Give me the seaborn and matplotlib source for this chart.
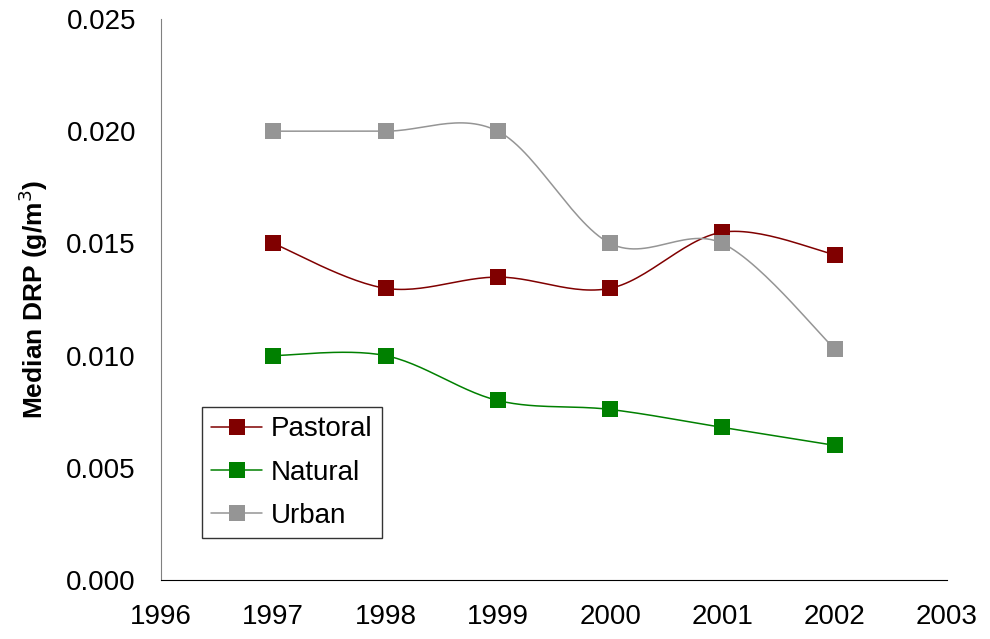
import numpy as np
import pandas as pd
import seaborn as sns
import matplotlib
matplotlib.use("Agg")
import matplotlib.pyplot as plt
from matplotlib.lines import Line2D

# data
years = [1997, 1998, 1999, 2000, 2001, 2002]
pastoral = [0.0150, 0.0130, 0.0135, 0.0130, 0.0155, 0.0145]
natural = [0.0100, 0.0100, 0.0080, 0.0076, 0.0068, 0.0060]
urban = [0.0200, 0.0200, 0.0200, 0.0150, 0.0150, 0.0103]

series = ["Pastoral", "Natural", "Urban"]
colors = {"Pastoral": "#800000", "Natural": "#008000", "Urban": "#959595"}

df = pd.DataFrame({"Year": years, "Pastoral": pastoral, "Natural": natural, "Urban": urban})
long = df.melt(id_vars="Year", var_name="Land use", value_name="DRP")

sns.set_style("white")
plt.rcParams["font.family"] = ["Liberation Sans", "DejaVu Sans"]
plt.rcParams["text.color"] = "black"
plt.rcParams["axes.labelcolor"] = "black"
plt.rcParams["xtick.labelcolor"] = "black"
plt.rcParams["ytick.labelcolor"] = "black"

fig = plt.figure(figsize=(9.9, 6.39), dpi=100)
ax = fig.add_axes([0.1626, 0.0923, 0.794, 0.878])


def smooth(x, y, n=30):
    # Excel-style smoothed line: Catmull-Rom segments between the data points
    x = np.asarray(x, float)
    y = np.asarray(y, float)
    px = np.concatenate([[x[0]], x, [x[-1]]])
    py = np.concatenate([[y[0]], y, [y[-1]]])
    xs, ys = [], []
    t = np.linspace(0, 1, n)
    for i in range(1, len(px) - 2):
        for p, out in ((px, xs), (py, ys)):
            p0, p1, p2, p3 = p[i - 1], p[i], p[i + 1], p[i + 2]
            m1 = (p2 - p0) / 2
            m2 = (p3 - p1) / 2
            h = ((2 * t**3 - 3 * t**2 + 1) * p1 + (t**3 - 2 * t**2 + t) * m1
                 + (-2 * t**3 + 3 * t**2) * p2 + (t**3 - t**2) * m2)
            out.extend(h)
    return xs, ys


for name in series:
    sub = long[long["Land use"] == name]
    sx, sy = smooth(sub["Year"], sub["DRP"])
    ax.plot(sx, sy, color=colors[name], lw=1.1, zorder=2)

sns.lineplot(data=long, x="Year", y="DRP", hue="Land use", palette=colors,
             marker="s", markersize=12, markeredgewidth=0, linestyle="",
             ax=ax, legend=False, zorder=3)

# legend
handles = [Line2D([], [], color=colors[s], lw=1.1, marker="s", markersize=12,
                  markeredgewidth=0) for s in series]
leg = ax.legend(handles, series, loc="lower left", bbox_to_anchor=(0.052, 0.075),
                borderaxespad=0, frameon=True, fancybox=False, edgecolor="black",
                fontsize=20, handlelength=1.85, labelspacing=0.62, borderpad=0.33,
                handletextpad=0.3)
leg.get_frame().set_linewidth(1.0)
for txt in leg.get_texts():
    txt.set_color("black")

ax.set_xlim(1996, 2003)
ax.set_ylim(0, 0.025)
ax.set_xticks(range(1996, 2004))
ax.set_yticks(np.arange(0, 0.0251, 0.005))
ax.yaxis.set_major_formatter(matplotlib.ticker.FormatStrFormatter("%.3f"))
ax.set_xlabel("")
ax.set_ylabel("Median DRP (g/m$^3$)", fontsize=19, fontweight="bold", labelpad=12,
              color="black")

ax.spines["top"].set_visible(False)
ax.spines["right"].set_visible(False)
ax.spines["left"].set_color("#808080")
ax.spines["bottom"].set_color("black")
ax.tick_params(axis="both", which="major", direction="out", length=6, width=1,
               color="#808080", labelsize=20, labelcolor="black")
ax.tick_params(axis="y", pad=12)
ax.tick_params(axis="x", pad=11)

fig.savefig("out.png", dpi=100)
